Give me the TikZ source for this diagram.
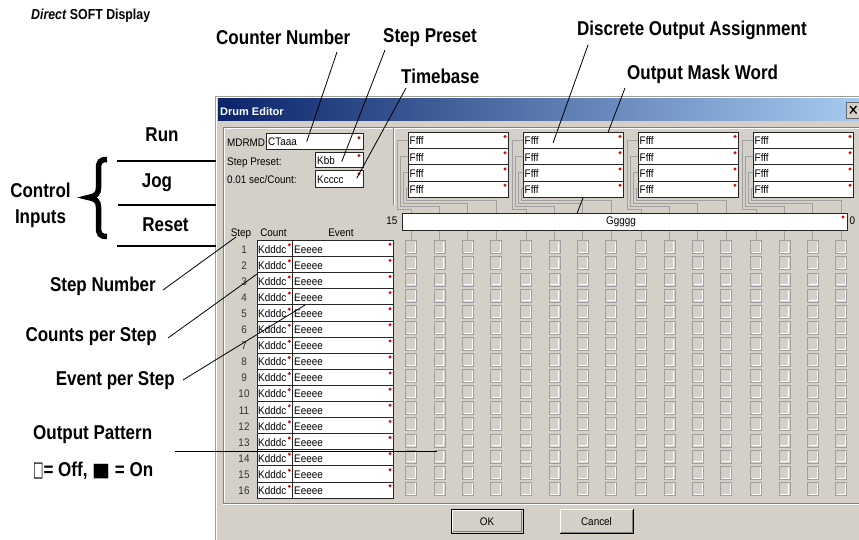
\documentclass[tikz,border=0pt]{standalone}
\usepackage{fontspec}
\usepackage{graphicx}
\setmainfont{Liberation Sans}
\newfontfamily\annotfam[FakeStretch=0.85]{Liberation Sans}
\newfontfamily\dlgfam[FakeStretch=0.9]{Liberation Sans}
\newfontfamily\symfam{DejaVu Sans}
\definecolor{winbg}{HTML}{D4D0C8}
\definecolor{shadowgray}{HTML}{808080}
\definecolor{midgray}{HTML}{A0A0A0}
\definecolor{tbdark}{HTML}{0A246A}
\definecolor{tblight}{HTML}{A6CAF0}
\definecolor{dotred}{HTML}{E00000}
\newcommand\dlgfont{\dlgfam\fontsize{11}{13}\selectfont}
\newcommand\annfont{\annotfam\bfseries\fontsize{20}{22}\selectfont}
\begin{document}
\begin{tikzpicture}[x=1pt,y=-1pt,
  dlg/.style={font=\dlgfont, inner sep=0pt},
  ann/.style={font=\annfont, inner sep=0pt},
  cell/.style={draw=black!85, line width=0.8pt, fill=white, inner sep=0pt},
  sq/.style={draw=midgray, line width=0.8pt},
  stem/.style={draw=midgray, line width=0.8pt},
  tree/.style={draw=midgray, line width=0.8pt},
  leader/.style={draw=black, line width=0.8pt},
  ctl/.style={draw=black, line width=1.7pt},
  etch/.style={draw=shadowgray, line width=0.8pt},
  hl/.style={draw=white, line width=0.8pt},
  rdot/.style={fill=dotred}]
\useasboundingbox (0,0) rectangle (859,540);
\fill[white] (0,0) rectangle (859,540);

% ---------- window ----------
\fill[winbg] (215,96) rectangle (859,540);
\draw[draw=winbg!75!black, line width=0.8pt] (215.4,540) -- (215.4,96.4) -- (859,96.4);
\draw[hl] (216.6,540) -- (216.6,97.6) -- (859,97.6);
\shade[left color=tbdark, right color=tblight] (218,99) rectangle (859,120.5);
\node[font=\bfseries\fontsize{11}{13}\selectfont, text=white, anchor=base west, inner sep=0pt] (title) at (220,115.5) {Drum Editor};
\draw[fill=winbg, draw=black!60, line width=0.8pt] (846,102.5) rectangle (862,118);
\draw[line width=1.3pt] (850,106) -- (856.5,113.5) (856.5,106) -- (850,113.5);

% etched frames
\draw[etch] (223,503) -- (223,127.5) -- (859,127.5);
\draw[hl] (224.2,502) -- (224.2,128.7) -- (859,128.7);
\draw[etch] (223,503) -- (859,503);
\draw[hl] (223,504.2) -- (859,504.2);
\draw[etch] (393.5,128.5) -- (393.5,205);
\draw[hl] (394.7,129.5) -- (394.7,205);

% ---------- counter fields ----------
\node[dlg, anchor=base west] (lmd) at (227,146.5) {MDRMD};
\node[dlg, anchor=base west] (lsp) at (227,165.5) {Step Preset:};
\node[dlg, anchor=base west] (ltb) at (227,184) {0.01 sec/Count:};
\node[cell, minimum width=97pt, minimum height=16pt, anchor=north west] (ctbox) at (266,133) {};
\node[cell, minimum width=48pt, minimum height=15.6pt, anchor=north west] (kbbbox) at (315,151.7) {};
\node[cell, minimum width=48pt, minimum height=16.7pt, anchor=north west] (kcbox) at (315,170) {};
\node[dlg, anchor=base west] (ctt) at (268,146) {CTaaa};
\node[dlg, anchor=base west] (kbt) at (317,165) {Kbb};
\node[dlg, anchor=base west] (kct) at (317,184) {Kcccc};
\fill[rdot] (359,137.8) circle (1.6);
\fill[rdot] (359,155.5) circle (1.6);
\fill[rdot] (359,173.8) circle (1.6);

% ---------- discrete output assignment tree ----------
\foreach \g in {0,...,3}{
  \foreach \r in {0,...,3}{
    \pgfmathsetmacro\xl{408+115*\g}
    \pgfmathsetmacro\yc{140.1+16.25*\r}
    \pgfmathsetmacro\xv{397+115*\g+3*\r}
    \pgfmathsetmacro\yh{209-3*\r}
    \pgfmathsetmacro\xt{411+115*\g+28.4*\r}
    \draw[tree] (\xl,\yc) -| (\xv,\yh) -| (\xt,213);
  }
}
% leader behind boxes
\coordinate (omwA) at (625,88);
\coordinate (omwB) at (573,224);
\draw[leader] (omwA) -- (omwB);

\foreach \g in {0,...,3}{
  \foreach \r in {0,...,3}{
    \pgfmathsetmacro\xl{408+115*\g}
    \pgfmathsetmacro\yt{132+16.25*\r}
    \node[cell, minimum width=100pt, minimum height=16.25pt, anchor=north west] (f\g\r) at (\xl,\yt) {};
    \node[dlg, anchor=base west] (ft\g\r) at (\xl+1.5,\yt+13) {Ffff};
    \fill[rdot] (\xl+97,\yt+4.5) circle (1.6);
  }
}

% ---------- mask word ----------
\node[cell, minimum width=445pt, minimum height=17pt, anchor=north west] (mask) at (402,213) {};
\node[dlg, anchor=base] (maskt) at (621,225) {Ggggg};
\fill[rdot] (843,217) circle (1.6);
\node[dlg, anchor=base east] (b15) at (397.5,225) {15};
\node[dlg, anchor=base west] (b0) at (849.5,225) {0};

% ---------- output pattern grid ----------
\foreach \g in {0,...,3}{
  \foreach \j in {0,...,3}{
    \pgfmathsetmacro\xc{411+115*\g+28.4*\j}
    \draw[stem] (\xc,230.5) -- (\xc,240.7);
    \foreach \i in {0,...,15}{
      \pgfmathsetmacro\yt{240.7+16.1*\i}
      \draw[sq] (\xc-5.5,\yt) rectangle (\xc+5.5,\yt+13);
      \draw[hl] (\xc-4.3,\yt+11.8) -- (\xc+4.3,\yt+11.8) -- (\xc+4.3,\yt+1.2);
    }
  }
}

% ---------- step table ----------
\node[dlg, anchor=base] (hstep) at (241,236.5) {Step};
\node[dlg, anchor=base] (hcount) at (273.5,236.5) {Count};
\node[dlg, anchor=base] (hevent) at (341,236.5) {Event};
\foreach \i in {1,...,16}{
  \pgfmathsetmacro\yt{240+16.1*(\i-1)}
  \node[cell, minimum width=35.6pt, minimum height=16.1pt, anchor=north west] (cc\i) at (256.7,\yt) {};
  \node[cell, minimum width=101pt, minimum height=16.1pt, anchor=north west] (ec\i) at (292.3,\yt) {};
  \node[dlg, anchor=base west] (ct\i) at (258,\yt+13) {Kdddc};
  \node[dlg, anchor=base west] (et\i) at (294,\yt+13) {Eeeee};
  \node[dlg, anchor=base, text=black!80] (sn\i) at (244,\yt+13) {\i};
  \fill[rdot] (289.3,\yt+4.8) circle (1.6);
  \fill[rdot] (390,\yt+4.3) circle (1.6);
}

% ---------- buttons ----------
\draw[black, line width=1pt] (451,509) rectangle (523,533);
\draw[hl] (452.5,531.5) -- (452.5,510.5) -- (521.5,510.5);
\draw[etch] (452.5,531.5) -- (521.5,531.5) -- (521.5,510.5);
\node[dlg, anchor=base] (okb) at (487,525) {OK};
\draw[hl, line width=1pt] (560,533) -- (560,509) -- (633,509);
\draw[black, line width=1pt] (560,533.5) -- (633.5,533.5) -- (633.5,509);
\draw[etch] (561,532) -- (632,532) -- (632,510);
\node[dlg, anchor=base] (cancelb) at (596.5,525) {Cancel};

% ---------- annotations ----------
\node[font=\annotfam\bfseries\fontsize{14.5}{16}\selectfont, inner sep=0pt, anchor=base west] (dsd) at (31,19.3) {\textit{Direct} SOFT Display};
\node[ann, anchor=base west] (cn) at (216,45) {Counter Number};
\node[ann, anchor=base west] (sp) at (383,42.5) {Step Preset};
\node[ann, anchor=base west] (tb) at (401,83.5) {Timebase};
\node[ann, anchor=base west] (doa) at (577,36) {Discrete Output Assignment};
\node[ann, anchor=base west] (omw) at (627,79.5) {Output Mask Word};

\node[ann, anchor=base] (run) at (162,141.7) {Run};
\node[ann, anchor=base] (jog) at (157,188) {Jog};
\node[ann, anchor=base] (reset) at (165.5,231.7) {Reset};
\node[ann, anchor=base] (ctrl) at (40.5,198) {Control};
\node[ann, anchor=base] (inps) at (40.5,223) {Inputs};
\node[ann, anchor=base east] (snum) at (156,291) {Step Number};
\node[ann, anchor=base east] (cps) at (157,341) {Counts per Step};
\node[ann, anchor=base east] (eps) at (175,385) {Event per Step};
\node[ann, anchor=base west] (opat) at (33,439) {Output Pattern};
\node[ann, anchor=base west] (legend) at (33,476) {{\symfam\mdseries\scalebox{0.55}[1.05]{□}}= Off, {\symfam\scalebox{0.95}{■}} = On};

% brace
\draw[line width=5.5pt] (107,159.5) .. controls (100,159.5) and (98.5,162) .. (98.5,169) -- (98.5,188) .. controls (98.5,194) and (95,196.5) .. (88.5,197.5) .. controls (95,198.5) and (98.5,201) .. (98.5,207) -- (98.5,227) .. controls (98.5,234) and (100,236.5) .. (107,236.5);

% control input lines
\coordinate (c1a) at (117,160.7); \coordinate (c1b) at (216,160.7);
\coordinate (c2a) at (118,205); \coordinate (c2b) at (216,205);
\coordinate (c3a) at (117,246); \coordinate (c3b) at (216,246);
\draw[ctl] (c1a) -- (c1b);
\draw[ctl] (c2a) -- (c2b);
\draw[ctl] (c3a) -- (c3b);

% leaders
\coordinate (cnA) at (337,52);   \coordinate (cnB) at (306.7,141.7);
\coordinate (spA) at (385,50);   \coordinate (spB) at (341.7,161.7);
\coordinate (tbA) at (406,88);   \coordinate (tbB) at (356.7,178.3);
\coordinate (doaA) at (588,45);  \coordinate (doaB) at (553,143);
\coordinate (snA) at (163,290);  \coordinate (snB) at (236,237);
\coordinate (cpsA) at (168,338); \coordinate (cpsB) at (257,274);
\coordinate (epsA) at (183,380); \coordinate (epsB) at (305,305);
\coordinate (opA) at (175,451);  \coordinate (opB) at (437,451);
\draw[leader] (cnA) -- (cnB);
\draw[leader] (spA) -- (spB);
\draw[leader] (tbA) -- (tbB);
\draw[leader] (doaA) -- (doaB);
\draw[leader] (snA) -- (snB);
\draw[leader] (cpsA) -- (cpsB);
\draw[leader] (epsA) -- (epsB);
\draw[leader] (opA) -- (opB);
\end{tikzpicture}
\end{document}
